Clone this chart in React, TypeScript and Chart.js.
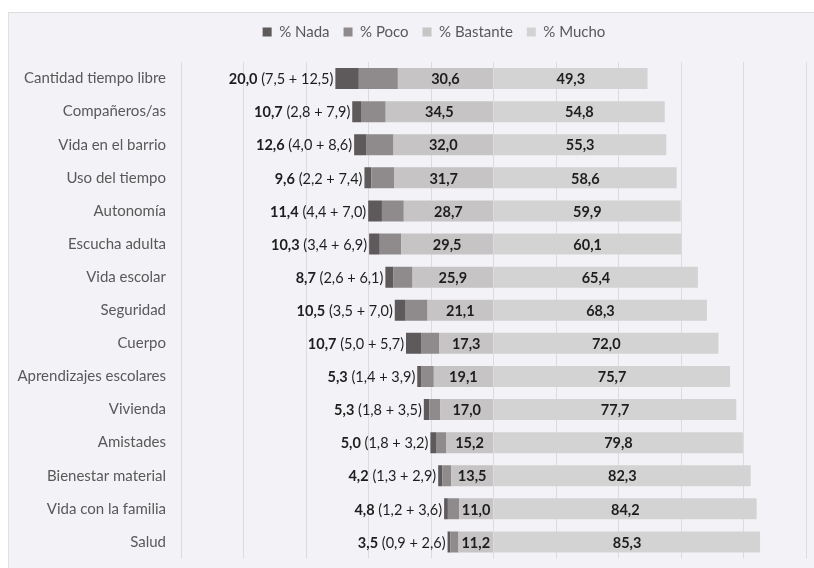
import React, { useEffect, useRef } from "react";
import { Chart, registerables } from "chart.js";

Chart.register(...registerables);

const categories = [
  "Cantidad tiempo libre",
  "Compañeros/as",
  "Vida en el barrio",
  "Uso del tiempo",
  "Autonomía",
  "Escucha adulta",
  "Vida escolar",
  "Seguridad",
  "Cuerpo",
  "Aprendizajes escolares",
  "Vivienda",
  "Amistades",
  "Bienestar material",
  "Vida con la familia",
  "Salud",
];

const nada = [7.5, 2.8, 4.0, 2.2, 4.4, 3.4, 2.6, 3.5, 5.0, 1.4, 1.8, 1.8, 1.3, 1.2, 0.9];
const poco = [12.5, 7.9, 8.6, 7.4, 7.0, 6.9, 6.1, 7.0, 5.7, 3.9, 3.5, 3.2, 2.9, 3.6, 2.6];
const bastante = [30.6, 34.5, 32.0, 31.7, 28.7, 29.5, 25.9, 21.1, 17.3, 19.1, 17.0, 15.2, 13.5, 11.0, 11.2];
const mucho = [49.3, 54.8, 55.3, 58.6, 59.9, 60.1, 65.4, 68.3, 72.0, 75.7, 77.7, 79.8, 82.3, 84.2, 85.3];

const seriesNames = ["% Nada", "% Poco", "% Bastante", "% Mucho"];
const seriesColors = ["#5e595a", "#8f8b8c", "#c6c4c4", "#d3d3d3"];

const axisMin = -100;
const axisMax = 100;
const axisStep = 20;

const FONT = "Lato, 'Open Sans', sans-serif";

const fmt = (v: number) => (Math.round(v * 10) / 10).toFixed(1).replace(".", ",");

const labelPlugin = {
  id: "barLabels",
  afterLayout(chart: any) {
    // the original legend is centred on a wider chart frame
    if (chart.legend) {
      chart.legend.left += 31;
      chart.legend.right += 31;
    }
  },
  afterDatasetsDraw(chart: any) {
    const ctx = chart.ctx;
    const metaB = chart.getDatasetMeta(0);
    const metaN = chart.getDatasetMeta(2);
    const metaM = chart.getDatasetMeta(3);
    ctx.save();
    ctx.textBaseline = "middle";
    categories.forEach((_, i) => {
      const b = metaB.data[i];
      const n = metaN.data[i];
      const m = metaM.data[i];
      const y = b.y + 1;
      ctx.fillStyle = "#1e1e1e";
      ctx.font = `bold 14.5px ${FONT}`;
      ctx.textAlign = "center";
      ctx.fillText(fmt(bastante[i]), (b.x + b.base) / 2, y);
      ctx.fillText(fmt(mucho[i]), (m.x + m.base) / 2, y);
      const total = fmt(nada[i] + poco[i]);
      const rest = ` (${fmt(nada[i])} + ${fmt(poco[i])})`;
      const right = Math.min(n.x, n.base) - 2;
      ctx.textAlign = "right";
      ctx.font = `14.5px ${FONT}`;
      const wRest = ctx.measureText(rest).width;
      ctx.fillText(rest, right, y);
      ctx.font = `bold 14.5px ${FONT}`;
      ctx.fillText(total, right - wRest, y);
    });
    ctx.restore();
  },
};

export default function App() {
  const ref = useRef<HTMLCanvasElement>(null);

  useEffect(() => {
    if (!ref.current) return;
    const legendOrder = seriesNames;
    const chart = new Chart(ref.current, {
      type: "bar",
      data: {
        labels: categories,
        datasets: [
          { label: seriesNames[2], data: bastante.map((v) => -v), backgroundColor: seriesColors[2], borderWidth: 0 },
          { label: seriesNames[1], data: poco.map((v) => -v), backgroundColor: seriesColors[1], borderWidth: 0 },
          { label: seriesNames[0], data: nada.map((v) => -v), backgroundColor: seriesColors[0], borderWidth: 0 },
          { label: seriesNames[3], data: mucho, backgroundColor: seriesColors[3], borderWidth: 0 },
        ],
      },
      options: {
        indexAxis: "y",
        animation: false,
        responsive: false,
        devicePixelRatio: 1,
        datasets: {
          bar: { categoryPercentage: 1, barPercentage: 0.634 },
        },
        layout: { padding: { left: 0, right: 8, top: 10.5, bottom: 9.5 } },
        plugins: {
          tooltip: { enabled: false },
          legend: {
            position: "top",
            labels: {
              font: { family: FONT, size: 15 },
              color: "#595959",
              boxWidth: 9,
              boxHeight: 9,
              padding: 14,
              sort: (a: any, b: any) => legendOrder.indexOf(a.text) - legendOrder.indexOf(b.text),
            },
          },
        },
        scales: {
          x: {
            position: "top",
            stacked: true,
            min: axisMin,
            max: axisMax,
            ticks: { display: false, stepSize: axisStep },
            grid: { color: "#dcdce0", lineWidth: 1, drawTicks: false },
            border: { display: false },
            afterFit: (s: any) => {
              s.height = 12.5;
              s.paddingLeft = 0;
              s.paddingRight = 0;
            },
          },
          y: {
            stacked: true,
            ticks: { font: { family: FONT, size: 15 }, color: "#595959", padding: 15 },
            grid: { display: false, drawTicks: false },
            border: { display: false },
            afterFit: (s: any) => {
              s.width = 181;
              s.paddingTop = 0;
              s.paddingBottom = 0;
            },
          },
        },
      },
      plugins: [labelPlugin],
    } as any);
    return () => chart.destroy();
  }, []);

  return (
    <>
      <div
        style={{
          position: "absolute",
          left: 8,
          top: 12,
          width: 806,
          height: 556,
          boxSizing: "border-box",
          background: "#f3f3f7",
          borderTop: "1px solid #dddddf",
          borderLeft: "1px solid #e2e2e4",
        }}
      />
      <canvas
        ref={ref}
        width={814}
        height={568}
        style={{ position: "absolute", left: 0, top: 0, width: 814, height: 568 }}
      />
    </>
  );
}
